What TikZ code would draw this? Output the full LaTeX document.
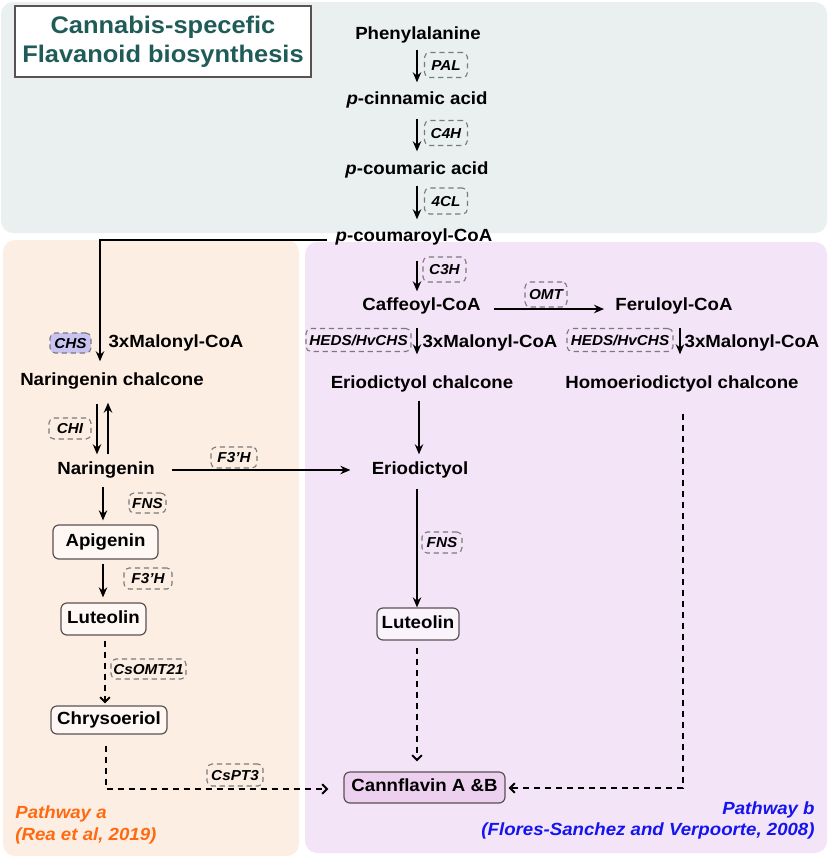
\documentclass[tikz,border=0pt]{standalone}
\usepackage{fontspec}
\setmainfont{Liberation Sans}[FakeStretch=1.06]
\usetikzlibrary{arrows.meta,calc}
\definecolor{topbg}{HTML}{EAF0EF}
\definecolor{leftbg}{HTML}{FDEEE4}
\definecolor{rightbg}{HTML}{F4E4F8}
\definecolor{chsfill}{HTML}{C9C3F2}
\definecolor{canfill}{HTML}{EDD0F0}
\definecolor{titlecol}{HTML}{1F5C58}
\definecolor{boxgray}{HTML}{5A5252}
\definecolor{enzgray}{HTML}{7A7A7A}
\definecolor{pathA}{HTML}{FF6A10}
\definecolor{pathB}{HTML}{1414F0}
\tikzset{
  chem/.style={font=\bfseries\fontsize{8.8}{10}\selectfont, inner xsep=1.5pt, inner ysep=1.5pt, text height=6.6pt, text depth=2.2pt},
  cbox/.style={chem, draw=boxgray, line width=0.6pt, rounded corners=3pt, inner sep=0pt},
  enz/.style={font=\bfseries\itshape\fontsize{7.2}{8}\selectfont, draw=enzgray, line width=0.55pt, dash pattern=on 2.6pt off 1.9pt, rounded corners=2.5pt, inner sep=0pt, text height=5.2pt, text depth=0pt},
  arr/.style={line width=1.15pt, -{Stealth[length=5pt,width=4.2pt]}},
  darr/.style={line width=1pt, dash pattern=on 3pt off 2.5pt, -{Straight Barb[length=2.4pt,width=4.8pt]}},
}
\begin{document}
\begin{tikzpicture}[x=0.5pt,y=-0.5pt]
\useasboundingbox (0,0) rectangle (829,858);
% panels
\fill[topbg, rounded corners=6pt] (1,2) rectangle (827,233);
\fill[leftbg, rounded corners=6pt] (3,240) rectangle (299,856);
\fill[rightbg, rounded corners=6pt] (305,242) rectangle (827,853);
% title
\node[draw=boxgray, line width=0.6pt, fill=white, minimum width=148pt, minimum height=35.5pt, align=center, text=titlecol, font=\bfseries\fontsize{12}{14.5}\selectfont] (ttl) at (163,41.5) {Cannabis-specefic\\Flavanoid biosynthesis};
% compounds
\node[chem] (phe) at (418,35) {Phenylalanine};
\node[chem] (cin) at (417,100) {\textit{p}-cinnamic acid};
\node[chem] (cou) at (417,170) {\textit{p}-coumaric acid};
\node[chem] (coa) at (414,237) {\textit{p}-coumaroyl-CoA};
\node[chem] (caf) at (421.5,306) {Caffeoyl-CoA};
\node[chem] (fer) at (674,306) {Feruloyl-CoA};
\node[chem] (mal1) at (176,343) {3xMalonyl-CoA};
\node[chem] (mal2) at (490,343) {3xMalonyl-CoA};
\node[chem] (mal3) at (752,343) {3xMalonyl-CoA};
\node[chem] (nc) at (112,381) {Naringenin chalcone};
\node[chem] (ec) at (422,384) {Eriodictyol chalcone};
\node[chem] (hc) at (682,384) {Homoeriodictyol chalcone};
\node[chem] (nar) at (106,470) {Naringenin};
\node[chem] (eri) at (420,470) {Eriodictyol};
\node[cbox, fill=white!55!leftbg, minimum width=52.5pt, minimum height=17pt] (api) at (105.5,542) {Apigenin};
\node[cbox, fill=white!55!leftbg, minimum width=42.5pt, minimum height=16pt] (lut1) at (103.5,619) {Luteolin};
\node[cbox, fill=white!55!leftbg, minimum width=58pt, minimum height=14pt] (chr) at (109,720) {Chrysoeriol};
\node[cbox, fill=white!55!rightbg, minimum width=41pt, minimum height=16pt] (lut2) at (418,624) {Luteolin};
\node[cbox, fill=canfill, minimum width=80.5pt, minimum height=15.5pt] (can) at (424.5,787.5) {Cannflavin A \&B};
% enzymes
\node[enz, minimum width=21.5pt, minimum height=12.5pt] (pal) at (446,65) {PAL};
\node[enz, minimum width=21.5pt, minimum height=12.5pt] (c4h) at (446,133) {C4H};
\node[enz, minimum width=21.5pt, minimum height=13pt] (fcl) at (446,201) {4CL};
\node[enz, minimum width=21.5pt, minimum height=12.5pt] (c3h) at (444.5,269.5) {C3H};
\node[enz, minimum width=21pt, minimum height=12.5pt] (omt) at (546,294.5) {OMT};
\node[enz, minimum width=52.5pt, minimum height=11.5pt] (heds1) at (358.5,340) {HEDS/HvCHS};
\node[enz, minimum width=53pt, minimum height=11.5pt] (heds2) at (620,340) {HEDS/HvCHS};
\node[enz, fill=chsfill, minimum width=20.5pt, minimum height=10pt] (chs) at (70.5,343) {CHS};
\node[enz, minimum width=21pt, minimum height=10.5pt] (chi) at (70,428.5) {CHI};
\node[enz, minimum width=23pt, minimum height=10.5pt] (f3ha) at (234,457.5) {F3'H};
\node[enz, minimum width=18.5pt, minimum height=10pt] (fns1) at (147.5,503) {FNS};
\node[enz, minimum width=24pt, minimum height=10.5pt] (f3hb) at (148,578.5) {F3'H};
\node[enz, minimum width=37.5pt, minimum height=10pt] (omt21) at (148.5,669) {CsOMT21};
\node[enz, minimum width=28pt, minimum height=11pt] (pt3) at (235,775) {CsPT3};
\node[enz, minimum width=20pt, minimum height=10.5pt] (fns2) at (442,542.5) {FNS};
% pathway labels
\node[anchor=west, align=left, text=pathA, inner sep=0pt, font=\bfseries\itshape\fontsize{8.8}{11}\selectfont] (pa) at (15,825) {Pathway a\\(Rea et al, 2019)};
\node[anchor=east, align=right, text=pathB, inner sep=0pt, font=\bfseries\itshape\fontsize{8.8}{10.5}\selectfont] (pb) at (815,820.5) {Pathway b\\(Flores-Sanchez and Verpoorte, 2008)};
% connectors
\draw[arr] ($(phe.south)+(-1,2.5)$) -- ($(cin.north)+(0,-5.5)$);
\draw[arr] ($(cin.south)+(0,6.5)$) -- ($(cou.north)+(0,-6.5)$);
\draw[arr] ($(cou.south)+(0,3.5)$) -- ($(coa.north)+(3,-5.5)$);
\draw[arr] ($(coa.south)+(3,11.5)$) -- ($(caf.north)+(-4.5,-2.5)$);
\draw[arr] ($(caf.east)+(10,3)$) -- ($(fer.west)+(-8,3)$);
\draw[arr] ($(caf.south)+(-4.5,9.5)$) -- ($(ec.north)+(-5,-17.5)$);
\draw[arr] ($(fer.south)+(6,9.5)$) -- ($(hc.north)+(-2,-17.5)$);
\draw[arr] ($(coa.west)+(-5,3)$) -| ($(nc.north)+(-12,-7.5)$);
\draw[arr] ($(nc.south)+(-15,10.5)$) -- ($(nar.north)+(-9,-3.5)$);
\draw[arr] ($(nar.north)+(2,-3.5)$) -- ($(nc.south)+(-4,9.5)$);
\draw[arr] ($(nar.east)+(14,0)$) -- ($(eri.west)+(-18,0)$);
\draw[arr] ($(nar.south)+(-3,4.5)$) -- ($(api.north)+(-2.5,-4)$);
\draw[arr] ($(api.south)+(-2.5,4)$) -- ($(lut1.north)+(-0.5,-5)$);
\draw[darr] ($(lut1.south)+(1.5,5)$) -- ($(chr.north)+(-4,-2)$);
\draw[darr] ($(chr.south)+(-3,11)$) |- ($(can.west)+(-15,1.5)$);
\draw[arr] ($(ec.south)+(-3,4.5)$) -- ($(eri.north)+(-1,-3.5)$);
\draw[arr] ($(eri.south)+(-3,6.5)$) -- ($(lut2.north)+(-1,0)$);
\draw[darr] ($(lut2.south)+(-1,7)$) -- ($(can.north)+(-7.5,-10)$);
\draw[darr] ($(hc.south)+(1,17.5)$) |- ($(can.east)+(3,0.5)$);
\end{tikzpicture}
\end{document}
